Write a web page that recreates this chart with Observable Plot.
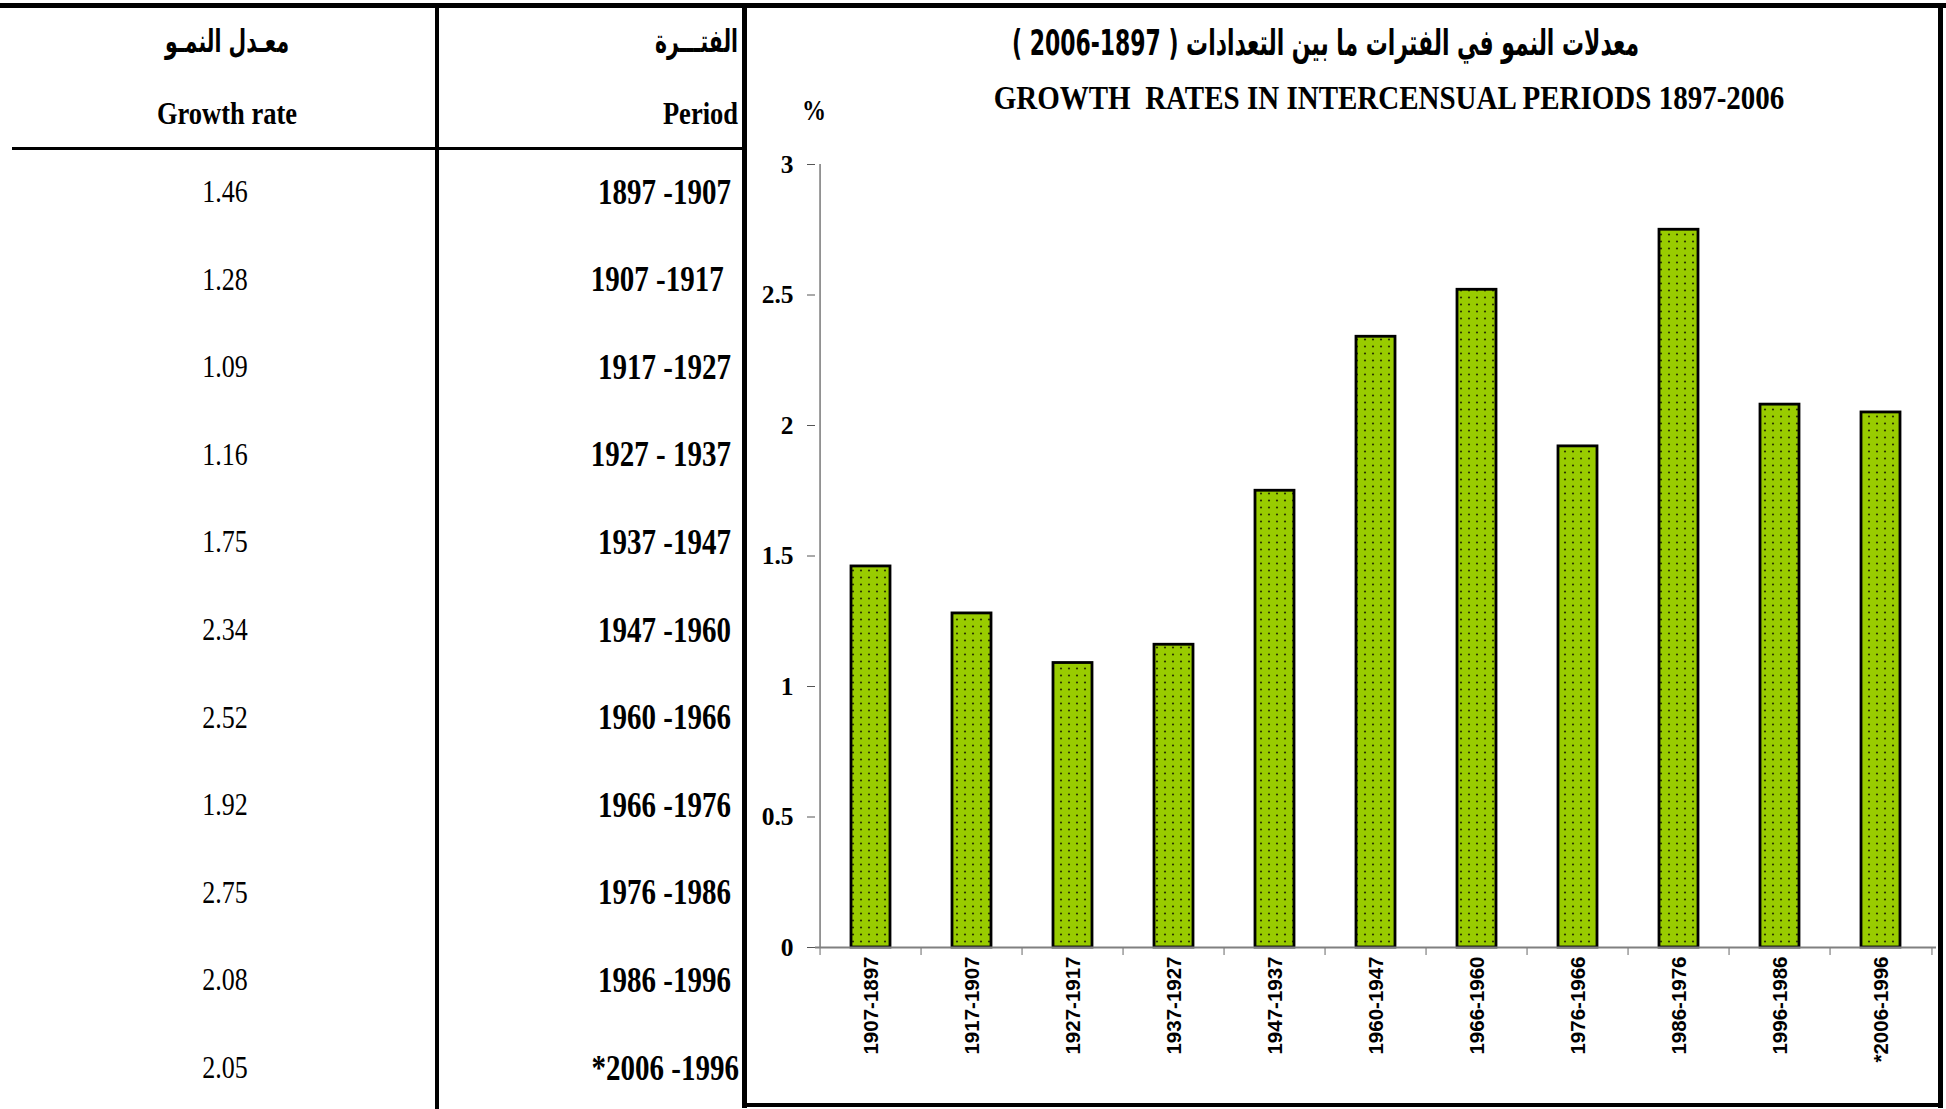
<!DOCTYPE html>
<html><head><meta charset="utf-8">
<script src="https://cdn.jsdelivr.net/npm/d3@7"></script>
<script src="https://cdn.jsdelivr.net/npm/@observablehq/plot@0.6"></script>
<style>
html,body{margin:0;padding:0;background:#fff;}
body{width:1946px;height:1109px;overflow:hidden;position:relative;color:#000;}
.t{position:absolute;white-space:pre;line-height:1;}
.ln{position:absolute;background:#000;}
#chart{position:absolute;left:745px;top:0px;}
</style></head><body>
<div id="chart"></div>
<script>
// ---- data ----
const periods = ["1897 -1907", "1907 -1917 ", "1917 -1927", "1927 - 1937", "1937 -1947", "1947 -1960",
                 "1960 -1966", "1966 -1976", "1976 -1986", "1986 -1996", "*2006 -1996"];
const growthRates = [1.46, 1.28, 1.09, 1.16, 1.75, 2.34, 2.52, 1.92, 2.75, 2.08, 2.05];
const chartLabels = ["1907-1897", "1917-1907", "1927-1917", "1937-1927", "1947-1937", "1960-1947",
                     "1966-1960", "1976-1966", "1986-1976", "1996-1986", "*2006-1996"];
const yTicks = [0, 0.5, 1, 1.5, 2, 2.5, 3];
const headerRateAr = "معـدل النمـو";
const headerRateEn = "Growth rate";
const headerPeriodAr = "الفتـــرة";
const headerPeriodEn = "Period";
const titleAr = "معدلات النمو في الفترات ما بين التعدادات ( 1897-2006 )";
const titleEn = "GROWTH  RATES IN INTERCENSUAL PERIODS 1897-2006";
const unitLabel = "%";

const SERIF = '"Liberation Serif","Times New Roman",serif';
const SANS = '"Liberation Sans",Arial,sans-serif';
const AR = '"DejaVu Sans Condensed","DejaVu Sans",sans-serif';

// ---- helpers ----
function place(text, x, y, {anchor = "middle", font = SERIF, size = 26, weight = "normal", sy = 1, width = null, dir = null} = {}) {
  const el = document.createElement("div");
  el.className = "t";
  el.textContent = text;
  el.style.font = `${weight} ${size}px ${font}`;
  if (dir) el.dir = dir;
  document.body.appendChild(el);
  const r = el.getBoundingClientRect();
  const w = r.width, h = r.height;
  const sx = width ? width / w : 1;
  const W = w * sx;
  const left = anchor === "middle" ? x - W / 2 : anchor === "end" ? x - W : x;
  el.style.transformOrigin = "0 50%";
  el.style.transform = `scale(${sx},${sy})`;
  el.style.left = left + "px";
  el.style.top = (y - h / 2) + "px";
  return el;
}
function line(l, t, w, h) {
  const d = document.createElement("div");
  d.className = "ln";
  Object.assign(d.style, {left: l + "px", top: t + "px", width: w + "px", height: h + "px"});
  document.body.appendChild(d);
}

// ---- table & frame lines ----
line(0, 3, 1946, 5);          // top border
line(435, 5, 4, 1104);        // column separator
line(12, 147, 733, 3);        // header underline
line(742, 4, 5, 1104);        // chart box left
line(1938, 4, 5, 1104);       // chart box right
line(742, 1103, 1201, 4);     // chart box bottom

// headers
place(headerRateAr, 227, 41, {font: AR, weight: "bold", size: 22, width: 124, dir: "rtl", sy: 1.45});
place(headerPeriodAr, 738, 41, {anchor: "end", font: AR, weight: "bold", size: 22, width: 83, dir: "rtl", sy: 1.45});
place(headerRateEn, 227, 113, {weight: "bold", size: 26.5, sy: 1.18});
place(headerPeriodEn, 738, 113, {anchor: "end", weight: "bold", size: 26.5, sy: 1.18});

// rows
const rowY0 = 192, rowStep = 87.6;
growthRates.forEach((v, i) => {
  place(v.toFixed(2), 225, rowY0 + i * rowStep, {size: 26, sy: 1.22});
});
periods.forEach((p, i) => {
  const endX = i === periods.length - 1 ? 739 : 731;
  place(p, endX, rowY0 + i * rowStep, {anchor: "end", weight: "bold", size: 29, sy: 1.2});
});

// titles
place(titleAr, 1325, 43, {font: AR, weight: "bold", size: 24, width: 627, dir: "rtl", sy: 1.5});
place(titleEn, 1389, 98, {weight: "bold", size: 29, sy: 1.15});
place(unitLabel, 814, 110, {weight: "bold", size: 24, sy: 1.2});

// ---- chart ----
const W = 1197, H = 1109;
const mL = 70, mR = 6, mT = 164, mB = 162;
const step = (W - mL - mR) / chartLabels.length;
const data = chartLabels.map((label, i) => ({label, value: growthRates[i]}));

const svg = Plot.plot({
  width: W, height: H,
  marginLeft: mL, marginRight: mR, marginTop: mT, marginBottom: mB,
  style: {background: "transparent", overflow: "visible"},
  x: {domain: chartLabels, paddingInner: 0.61, paddingOuter: 0.305, axis: null},
  y: {domain: [0, 3], axis: null},
  marks: [
    Plot.ruleX([chartLabels[0]], {y1: 0, y2: 3, dx: -step / 2, stroke: "#555", strokeWidth: 1.2}),
    Plot.axisY({ticks: yTicks, tickFormat: d => String(d), tickSize: 8, tickPadding: 14, label: null,
                fontSize: 25.5, fontWeight: "bold", fontFamily: SERIF, stroke: "#555"}),
    Plot.barY(data, {x: "label", y: "value", fill: "url(#dots)", stroke: "#000", strokeWidth: 2.8}),
    Plot.ruleY([0], {stroke: "#808080", strokeWidth: 2}),
    Plot.ruleX(chartLabels, {y1: 0, y2: 0, dx: -step / 2, insetBottom: -8, stroke: "#808080", strokeWidth: 1.2}),
    Plot.ruleX([chartLabels[chartLabels.length - 1]], {y1: 0, y2: 0, dx: step / 2, insetBottom: -8, stroke: "#808080", strokeWidth: 1.2}),
    Plot.axisX({tickRotate: -90, tickSize: 0, tickPadding: 9, label: null,
                fontSize: 20.5, fontWeight: "bold", fontFamily: SANS})
  ]
});

// dotted green fill pattern
const defs = d3.create("svg:defs");
const pat = defs.append("pattern").attr("id", "dots").attr("patternUnits", "userSpaceOnUse")
  .attr("width", 8).attr("height", 7);
pat.append("rect").attr("width", 8).attr("height", 7).attr("fill", "#99CC00");
pat.append("circle").attr("cx", 4).attr("cy", 3.5).attr("r", 1.1).attr("fill", "#2a3300");
svg.insertBefore(defs.node(), svg.firstChild);

document.getElementById("chart").appendChild(svg);
</script>
</body></html>
